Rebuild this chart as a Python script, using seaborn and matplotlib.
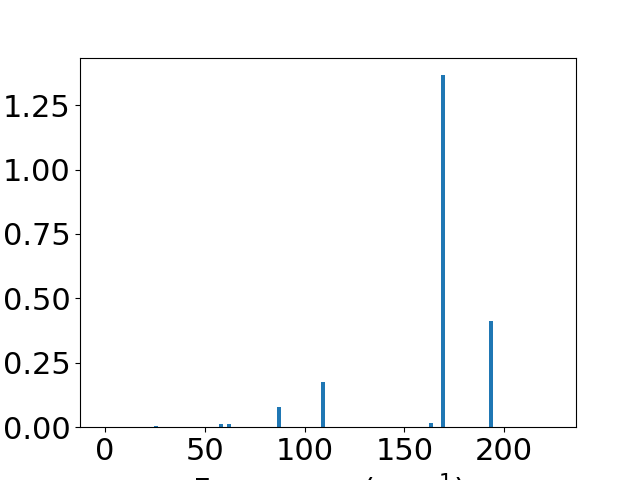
import matplotlib
matplotlib.use("Agg")
import matplotlib.pyplot as plt
import seaborn as sns
import pandas as pd

freqs = [25.5, 58.0, 62.0, 87.2, 109.3, 163.5, 169.5, 193.5]
intensities = [0.005, 0.012, 0.012, 0.079, 0.175, 0.017, 1.366, 0.411]

df = pd.DataFrame({"freq": freqs, "intensity": intensities})

plt.rcParams["font.size"] = 22

fig, ax = plt.subplots(figsize=(6.4, 4.8), dpi=100)

sns.barplot(
    data=df,
    x="freq",
    y="intensity",
    native_scale=True,
    width=0.5,
    color="#1f77b4",
    saturation=1,
    errorbar=None,
    ax=ax
)

ax.set_xlim(-12.5, 236)
ax.set_xticks([0, 50, 100, 150, 200])
ax.set_yticks([0, 0.25, 0.5, 0.75, 1.0, 1.25])
ax.set_xlabel("Frequency (cm$^{-1}$)")
ax.set_ylabel("")

fig.savefig("out.png")
